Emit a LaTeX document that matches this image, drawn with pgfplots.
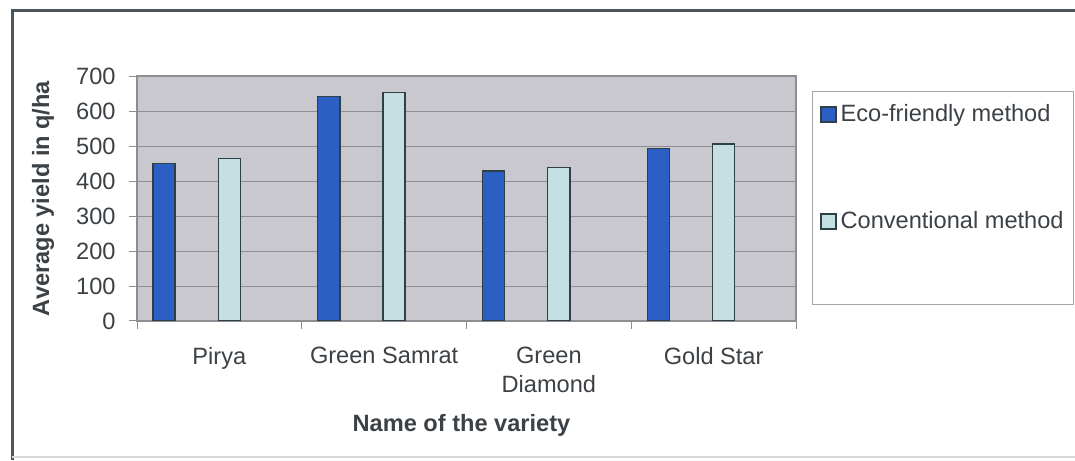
\documentclass[border=0pt]{standalone}
\usepackage{pgfplots}
\pgfplotsset{compat=1.18}
\usepackage{fontspec}
\setmainfont{Liberation Sans}
\definecolor{txt}{HTML}{3C4146}
\definecolor{frame}{HTML}{4A555C}
\definecolor{plotbg}{HTML}{C8C8CE}
\definecolor{gridc}{HTML}{8E8E92}
\definecolor{eco}{HTML}{2B5FC4}
\definecolor{conv}{HTML}{C4E0E2}
\definecolor{bardraw}{HTML}{2F3F48}
\begin{document}
\begin{tikzpicture}
\useasboundingbox (0,0) rectangle (537.5pt,230pt);
\fill[white] (0,0) rectangle (537.5pt,230pt);
\draw[frame, line width=1.5pt] (6pt,0) -- (6pt,224.5pt) -- (537.5pt,224.5pt);
\draw[gray!30, line width=0.6pt] (6pt,1.5pt) -- (537.5pt,1.5pt);
\draw[gray!70, line width=0.5pt] (406pt,184pt) rectangle (536.5pt,77.5pt);
\begin{axis}[
  at={(68.5pt,69.5pt)}, anchor=south west,
  scale only axis, width=329.5pt, height=122.5pt,
  xmin=-0.5, xmax=3.5, ymin=0, ymax=700,
  ytick={0,100,...,700},
  xtick={0,1,2,3},
  xticklabels={Pirya, Green Samrat, {Green\\Diamond}, Gold Star},
  minor xtick={-0.5,0.5,1.5,2.5,3.5},
  major x tick style={draw=none},
  tick align=outside,
  major tick length=4pt, minor tick length=4pt,
  tick style={gridc, line width=0.5pt},
  xtick pos=bottom, ytick pos=left,
  ymajorgrids, grid style={gridc, line width=0.5pt},
  axis background/.style={fill=plotbg},
  axis line style={gridc, line width=0.6pt},
  /pgf/number format/assume math mode=true,
  tick label style={font=\fontsize{11.8}{14.5}\selectfont, text=txt},
  xticklabel style={anchor=north, inner sep=0pt, align=center, yshift=-9pt},
  yticklabel style={anchor=east, inner sep=0pt, xshift=-6.5pt},
  ybar, bar width=0.134,
  xlabel={Name of the variety},
  ylabel={Average yield in q/ha},
  label style={font=\fontsize{11.8}{14}\selectfont\bfseries, text=txt},
  xlabel style={at={(axis description cs:0.5,0)}, anchor=center, yshift=-52pt, xshift=-2.5pt},
  ylabel style={at={(axis description cs:0,0.5)}, anchor=center, rotate=0, yshift=47pt},
  legend style={at={(axis description cs:1,1)}, anchor=north west, xshift=12pt, yshift=-12pt,
    draw=none, fill=none, inner sep=0pt, row sep=39.5pt,
    font=\fontsize{11.8}{14}\selectfont, text=txt, cells={anchor=west}},
  legend image code/.code={\draw[#1, line width=0.6pt] (0pt,-3.75pt) rectangle (7.5pt,3.75pt);},
]
\addplot[ybar, bar shift=-0.336, fill=eco, draw=bardraw, line width=0.7pt]
  coordinates {(0,450) (1,641) (2,429) (3,493)};
\addlegendentry{Eco-friendly method}
\addplot[ybar, bar shift=0.06, fill=conv, draw=bardraw, line width=0.7pt]
  coordinates {(0,464) (1,653) (2,438) (3,506)};
\addlegendentry{Conventional method}
\end{axis}
\end{tikzpicture}
\end{document}
